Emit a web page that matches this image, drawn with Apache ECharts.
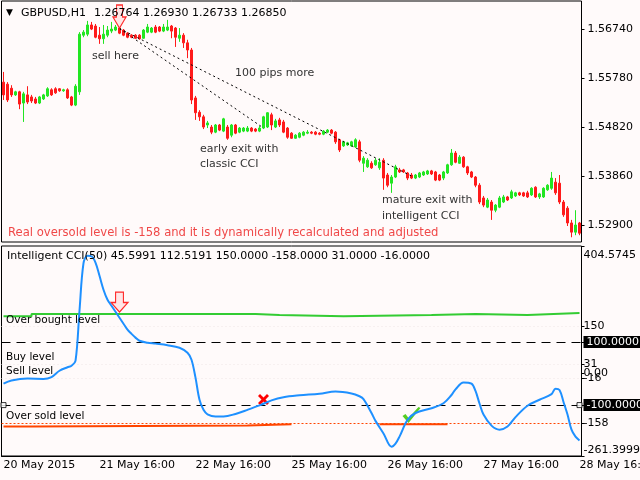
<!DOCTYPE html>
<html><head><meta charset="utf-8">
<script src="https://cdn.jsdelivr.net/npm/echarts@6/dist/echarts.min.js"></script>
<style>html,body{margin:0;padding:0;background:#FFFAFA}#c{width:640px;height:480px}</style>
</head><body><div id="c"></div>
<script>
// ---------- price candles (GBPUSD H1) ----------
const opens = [
1.5570,1.5566,1.5558,1.5545,1.5551,1.5529,1.5545,1.5541,1.5537,1.5529,
1.5537,1.5543,1.5555,1.5557,1.5557,1.5553,1.5555,1.5541,1.5525,1.5551,
1.5662,1.5664,1.5682,1.5680,1.5662,1.5655,1.5662,1.5670,1.5672,1.5676,
1.5672,1.5666,1.5662,1.5662,1.5662,1.5656,1.5668,1.5668,1.5678,1.5678,
1.5670,1.5672,1.5680,1.5676,1.5656,1.5662,1.5647,1.5633,1.5539,1.5511,
1.5502,1.5486,1.5482,1.5472,1.5486,1.5474,1.5482,1.5466,1.5486,1.5472,
1.5474,1.5474,1.5480,1.5478,1.5474,1.5480,1.5482,1.5506,1.5482,1.5496,
1.5492,1.5480,1.5470,1.5460,1.5462,1.5466,1.5470,1.5472,1.5472,1.5470,
1.5468,1.5472,1.5476,1.5472,1.5457,1.5445,1.5447,1.5445,1.5443,1.5453,
1.5411,1.5404,1.5411,1.5408,1.5402,1.5417,1.5388,1.5372,1.5384,1.5398,
1.5398,1.5392,1.5388,1.5382,1.5384,1.5388,1.5390,1.5396,1.5394,1.5388,
1.5382,1.5392,1.5408,1.5431,1.5411,1.5423,1.5404,1.5394,1.5384,1.5368,
1.5343,1.5325,1.5335,1.5319,1.5325,1.5335,1.5345,1.5343,1.5347,1.5353,
1.5353,1.5353,1.5349,1.5364,1.5345,1.5345,1.5359,1.5362,1.5374,1.5372,
1.5335,1.5323,1.5294,1.5276,1.5294];
const closes = [
1.5545,1.5535,1.5545,1.5551,1.5527,1.5547,1.5531,1.5533,1.5529,1.5541,
1.5545,1.5557,1.5545,1.5549,1.5553,1.5555,1.5539,1.5525,1.5562,1.5664,
1.5668,1.5682,1.5674,1.5658,1.5655,1.5664,1.5672,1.5674,1.5678,1.5666,
1.5662,1.5658,1.5658,1.5656,1.5655,1.5672,1.5678,1.5676,1.5668,1.5670,
1.5678,1.5678,1.5670,1.5658,1.5662,1.5647,1.5633,1.5535,1.5510,1.5502,
1.5482,1.5490,1.5472,1.5486,1.5476,1.5498,1.5460,1.5486,1.5470,1.5480,
1.5480,1.5480,1.5474,1.5474,1.5480,1.5502,1.5510,1.5486,1.5494,1.5486,
1.5472,1.5462,1.5460,1.5466,1.5470,1.5472,1.5472,1.5470,1.5468,1.5468,
1.5474,1.5476,1.5470,1.5453,1.5437,1.5453,1.5451,1.5453,1.5457,1.5417,
1.5421,1.5417,1.5402,1.5417,1.5413,1.5382,1.5368,1.5384,1.5404,1.5394,
1.5394,1.5382,1.5382,1.5388,1.5392,1.5394,1.5396,1.5390,1.5378,1.5378,
1.5394,1.5408,1.5431,1.5413,1.5423,1.5404,1.5392,1.5384,1.5368,1.5335,
1.5329,1.5339,1.5319,1.5329,1.5343,1.5345,1.5339,1.5355,1.5353,1.5349,
1.5347,1.5345,1.5362,1.5345,1.5351,1.5362,1.5368,1.5382,1.5353,1.5335,
1.5310,1.5294,1.5276,1.5290,1.5274];
const highs = [
1.5590,1.5570,1.5564,1.5553,1.5553,1.5551,1.5562,1.5545,1.5541,1.5543,
1.5547,1.5560,1.5558,1.5560,1.5558,1.5557,1.5558,1.5543,1.5566,1.5668,
1.5672,1.5690,1.5688,1.5684,1.5678,1.5682,1.5680,1.5688,1.5682,1.5680,
1.5674,1.5668,1.5664,1.5664,1.5664,1.5674,1.5684,1.5678,1.5682,1.5680,
1.5684,1.5692,1.5682,1.5678,1.5676,1.5666,1.5653,1.5637,1.5543,1.5515,
1.5506,1.5494,1.5486,1.5488,1.5488,1.5500,1.5486,1.5488,1.5488,1.5482,
1.5482,1.5484,1.5482,1.5480,1.5484,1.5504,1.5511,1.5510,1.5498,1.5500,
1.5496,1.5482,1.5472,1.5468,1.5472,1.5474,1.5476,1.5474,1.5474,1.5472,
1.5476,1.5478,1.5478,1.5474,1.5459,1.5455,1.5453,1.5455,1.5460,1.5457,
1.5425,1.5421,1.5415,1.5421,1.5421,1.5421,1.5392,1.5388,1.5408,1.5402,
1.5400,1.5394,1.5392,1.5390,1.5394,1.5396,1.5398,1.5398,1.5396,1.5390,
1.5396,1.5410,1.5439,1.5435,1.5427,1.5425,1.5406,1.5396,1.5386,1.5372,
1.5347,1.5343,1.5339,1.5331,1.5347,1.5349,1.5347,1.5359,1.5355,1.5355,
1.5355,1.5357,1.5364,1.5366,1.5353,1.5364,1.5370,1.5394,1.5382,1.5388,
1.5339,1.5327,1.5300,1.5319,1.5296];
const lows = [
1.5535,1.5531,1.5541,1.5543,1.5517,1.5492,1.5527,1.5529,1.5527,1.5527,
1.5535,1.5541,1.5543,1.5547,1.5551,1.5551,1.5537,1.5523,1.5523,1.5545,
1.5658,1.5660,1.5672,1.5656,1.5645,1.5645,1.5658,1.5666,1.5670,1.5664,
1.5660,1.5656,1.5656,1.5655,1.5653,1.5655,1.5666,1.5666,1.5666,1.5668,
1.5668,1.5670,1.5656,1.5639,1.5649,1.5637,1.5617,1.5527,1.5496,1.5494,
1.5478,1.5480,1.5468,1.5470,1.5474,1.5472,1.5457,1.5462,1.5468,1.5470,
1.5472,1.5472,1.5472,1.5472,1.5472,1.5478,1.5480,1.5476,1.5480,1.5482,
1.5470,1.5459,1.5459,1.5459,1.5460,1.5464,1.5468,1.5468,1.5466,1.5466,
1.5466,1.5470,1.5468,1.5449,1.5433,1.5443,1.5445,1.5443,1.5441,1.5413,
1.5394,1.5402,1.5400,1.5406,1.5398,1.5359,1.5364,1.5353,1.5382,1.5392,
1.5392,1.5378,1.5380,1.5380,1.5382,1.5386,1.5388,1.5388,1.5376,1.5376,
1.5378,1.5390,1.5406,1.5411,1.5410,1.5402,1.5388,1.5382,1.5364,1.5331,
1.5325,1.5323,1.5300,1.5315,1.5323,1.5333,1.5337,1.5341,1.5345,1.5347,
1.5345,1.5343,1.5347,1.5343,1.5341,1.5343,1.5357,1.5359,1.5349,1.5331,
1.5306,1.5288,1.5266,1.5270,1.5270];

// ---------- axes ----------
const tickBars = [0, 24, 48, 72, 96, 120, 144];
const tickLabels = ['20 May 2015', '21 May 16:00', '22 May 16:00', '25 May 16:00', '26 May 16:00', '27 May 16:00', '28 May 16:00'];
const priceTicks = [1.52900, 1.53860, 1.54820, 1.55780, 1.56740];
const priceMin = 1.52567, priceMax = 1.57290;
const cciMin = -261.3999, cciMax = 404.5745;
const cciTicks = [-261.3999, -158, -100, -16, 0, 31, 100, 150, 404.5745];

// ---------- Intelligent CCI(50) ----------
const cciPoints = [[0,-32],[2,-22],[6,-16],[10,-17],[12,-11],[14,9],[16,20],[17,25],[18,40],[19,200],[20,350],[21,374],[22,372],[23,352],[24,310],[25,266],[26,234],[27,215],[28,196],[29,177],[30,158],[31,139],[32,126],[33,114],[34,104],[36,98],[38,95],[41,90],[44,82],[46,66],[47,44],[48,-13],[49,-83],[50,-115],[51,-129],[53,-136],[55,-136],[58,-128],[61,-115],[64,-101],[67,-85],[70,-75],[74,-69],[79,-64],[83,-57],[87,-63],[89,-72],[90,-81],[92,-125],[93,-150],[95,-190],[97,-232],[98,-222],[99,-200],[101,-147],[103,-125],[107,-110],[110,-94],[112,-68],[113,-50],[115,-28],[117,-32],[118,-55],[119,-95],[120,-130],[122,-165],[124,-178],[126,-168],[128,-138],[131,-102],[134,-83],[137,-65],[138,-48],[139,-52],[140,-90],[141,-130],[142,-178],[143,-200],[144,-212]];
const overBought = [[0,182],[7,189],[63,186],[69,182],[85,186],[107,189],[118,186],[131,192],[144,192]];
const overSoldA = [[0,-168],[7,-165],[61,-161],[72,-161]];
const overSoldB = [[94,-161],[111,-161]];
const levelsDashed = [100, -100];
const levelsFaint = [150, 31, -16];
const levelOversold = -158;

// ---------- annotations ----------
const earlyExitLine = [[29, 1.5675], [65, 1.5480]];
const matureExitLine = [[29, 1.5675], [102, 1.5386]];
const sellArrowPrice = [29, 1.5676];
const sellArrowCci = [29, 195];
const crossMark = [65, -82];
const checkMark = [102, -131];
const levelSquares = [[0, -100], [144, -100]];

const categories = opens.map((_, i) => String(i));
const candles = opens.map((o, i) => [o, closes[i], lows[i], highs[i]]);
const FONT = '"DejaVu Sans", sans-serif';
const isTick = (idx) => tickBars.indexOf(idx) >= 0;
const arrowPath = 'path://M3.5,0 L9.5,0 L9.5,12 L13,12 L6.5,23 L0,12 L3.5,12 Z';

function txt(x, y, text, fill, size) {
  return { type: 'text', x: x, y: y, z: 100,
    style: { text: text, fill: fill || '#000', font: (size || 11) + 'px ' + FONT, verticalAlign: 'middle' } };
}

const chart = echarts.init(document.getElementById('c'), null, { renderer: 'canvas' });
chart.setOption({
  animation: false,
  backgroundColor: '#FFFAFA',
  grid: [
    { left: 1.5, width: 580, top: 1, height: 241, show: true, borderColor: '#000', borderWidth: 1, outerBoundsMode: 'none', containLabel: false },
    { left: 1.5, width: 580, top: 246, height: 210, show: true, borderColor: '#000', borderWidth: 1, outerBoundsMode: 'none', containLabel: false }
  ],
  xAxis: [
    { type: 'category', gridIndex: 0, data: categories, show: false },
    { type: 'category', gridIndex: 1, data: categories,
      axisLine: { onZero: false, lineStyle: { color: '#000' } },
      axisTick: { interval: (i) => isTick(i), alignWithLabel: true, length: 4, lineStyle: { color: '#000' } },
      axisLabel: { interval: (i) => isTick(i), formatter: (v, i) => tickLabels[tickBars.indexOf(i)],
        align: 'left', margin: 4, color: '#000', fontFamily: FONT, fontSize: 11 },
      splitLine: { show: false } }
  ],
  yAxis: [
    { type: 'value', gridIndex: 0, position: 'right', min: priceMin, max: priceMax,
      axisLine: { show: false }, splitLine: { show: false },
      axisTick: { show: true, customValues: priceTicks, length: 3, lineStyle: { color: '#000' } },
      axisLabel: { customValues: priceTicks, formatter: (v) => v.toFixed(5), margin: 6,
        color: '#000', fontFamily: FONT, fontSize: 11 } },
    { type: 'value', gridIndex: 1, position: 'right', min: cciMin, max: cciMax,
      axisLine: { show: false }, splitLine: { show: false },
      axisTick: { show: true, customValues: cciTicks, length: 3, lineStyle: { color: '#000' } },
      axisLabel: { customValues: cciTicks, margin: 2, color: '#000', fontFamily: FONT, fontSize: 11,
        formatter: (v) => {
          if (Math.abs(v - 100) < 1e-6) return '{b|100.0000}';
          if (Math.abs(v + 100) < 1e-6) return '{b|-100.0000}';
          if (Math.abs(v - cciMax) < 1e-6) return '{t|404.5745}';
          if (Math.abs(v - cciMin) < 1e-6) return '{m|-261.3999}';
          if (v === 0) return '0.00';
          return String(v);
        },
        rich: {
          b: { color: '#fff', backgroundColor: '#000', padding: [1, 8, 0, 3], lineHeight: 12, fontFamily: FONT, fontSize: 11 },
          t: { padding: [18, 0, 0, 0], fontFamily: FONT, fontSize: 11, color: '#000' },
          m: { padding: [0, 0, 12, 0], fontFamily: FONT, fontSize: 11, color: '#000' }
        } } }
  ],
  series: [
    { type: 'candlestick', xAxisIndex: 0, yAxisIndex: 0, data: candles, barWidth: 2,
      itemStyle: { color: '#22E622', borderColor: '#22E622', color0: '#FF1A1A', borderColor0: '#FF1A1A', borderWidth: 1 } },
    { type: 'line', xAxisIndex: 0, yAxisIndex: 0, data: earlyExitLine, symbol: 'none',
      lineStyle: { color: '#000', width: 1, type: [2, 3] },
      markPoint: { silent: true, data: [{ coord: sellArrowPrice, symbol: arrowPath, symbolSize: [13, 23],
        symbolOffset: [0, '-50%'], symbolKeepAspect: false,
        itemStyle: { color: '#FFE6E6', borderColor: '#FF2A2A', borderWidth: 1.2 }, label: { show: false } }] } },
    { type: 'line', xAxisIndex: 0, yAxisIndex: 0, data: matureExitLine, symbol: 'none',
      lineStyle: { color: '#000', width: 1, type: [2, 3] } },
    { type: 'line', xAxisIndex: 1, yAxisIndex: 1, data: overBought, step: 'end', symbol: 'none',
      lineStyle: { color: '#33CC33', width: 2 } },
    { type: 'line', xAxisIndex: 1, yAxisIndex: 1, data: overSoldA, step: 'end', symbol: 'none',
      lineStyle: { color: '#FF4500', width: 2 } },
    { type: 'line', xAxisIndex: 1, yAxisIndex: 1, data: overSoldB, step: 'end', symbol: 'none',
      lineStyle: { color: '#FF4500', width: 2 } },
    { type: 'line', xAxisIndex: 1, yAxisIndex: 1, data: cciPoints, smooth: 0.35, symbol: 'none', z: 5,
      lineStyle: { color: '#1E90FF', width: 2 },
      markLine: { silent: true, symbol: 'none', label: { show: false }, animation: false,
        data: levelsDashed.map(v => ({ yAxis: v, lineStyle: { color: '#000', width: 1, type: [9, 6] } }))
          .concat([{ yAxis: levelOversold, lineStyle: { color: '#FF4500', width: 1, type: [2, 2] } }])
          .concat(levelsFaint.map(v => ({ yAxis: v, lineStyle: { color: '#EFE6E6', width: 1, type: [1, 3] } }))) },
      markPoint: { silent: true, label: { show: false }, data: [
        { coord: sellArrowCci, symbol: arrowPath, symbolSize: [17, 20], symbolOffset: [0, '-50%'], symbolKeepAspect: false,
          itemStyle: { color: '#FFE6E6', borderColor: '#FF2A2A', borderWidth: 1.2 } },
        { coord: crossMark, symbol: 'path://M0,2 L2,0 L5.5,3.5 L9,0 L11,2 L7.5,5.5 L11,9 L9,11 L5.5,7.5 L2,11 L0,9 L3.5,5.5 Z',
          symbolSize: [11, 11], symbolKeepAspect: false, itemStyle: { color: '#FF0000' } },
        { coord: checkMark, symbol: 'path://M0,9 L3,7 L6,11 L16,0 L18,1 L6,16 Z',
          symbolSize: [18, 16], symbolKeepAspect: false, itemStyle: { color: '#55CC22' } }
      ] } },
    { type: 'scatter', xAxisIndex: 1, yAxisIndex: 1, data: levelSquares, symbol: 'rect', symbolSize: 5, z: 6,
      itemStyle: { color: '#fff', borderColor: '#000', borderWidth: 1 } }
  ],
  graphic: [
    txt(6, 13, '\u25BC', '#000', 9),
    txt(21, 13, 'GBPUSD,H1'),
    txt(94, 13, '1.26764 1.26930 1.26733 1.26850'),
    txt(92, 56, 'sell here', '#333'),
    txt(235, 73, '100 pips more', '#333'),
    txt(200, 149, 'early exit with', '#333'),
    txt(200, 164, 'classic CCI', '#333'),
    txt(382, 200, 'mature exit with', '#333'),
    txt(382, 216, 'intelligent CCI', '#333'),
    txt(8, 233, 'Real oversold level is -158 and it is dynamically recalculated and adjusted', '#F04848', 11.6),
    txt(7, 256, 'Intelligent CCI(50) 45.5991 112.5191 150.0000 -158.0000 31.0000 -16.0000'),
    txt(6, 320, 'Over bought level', '#000', 10.5),
    txt(6, 357, 'Buy level', '#000', 10.5),
    txt(6, 371, 'Sell level', '#000', 10.5),
    txt(6, 416, 'Over sold level', '#000', 10.5)
  ]
});
</script></body></html>
